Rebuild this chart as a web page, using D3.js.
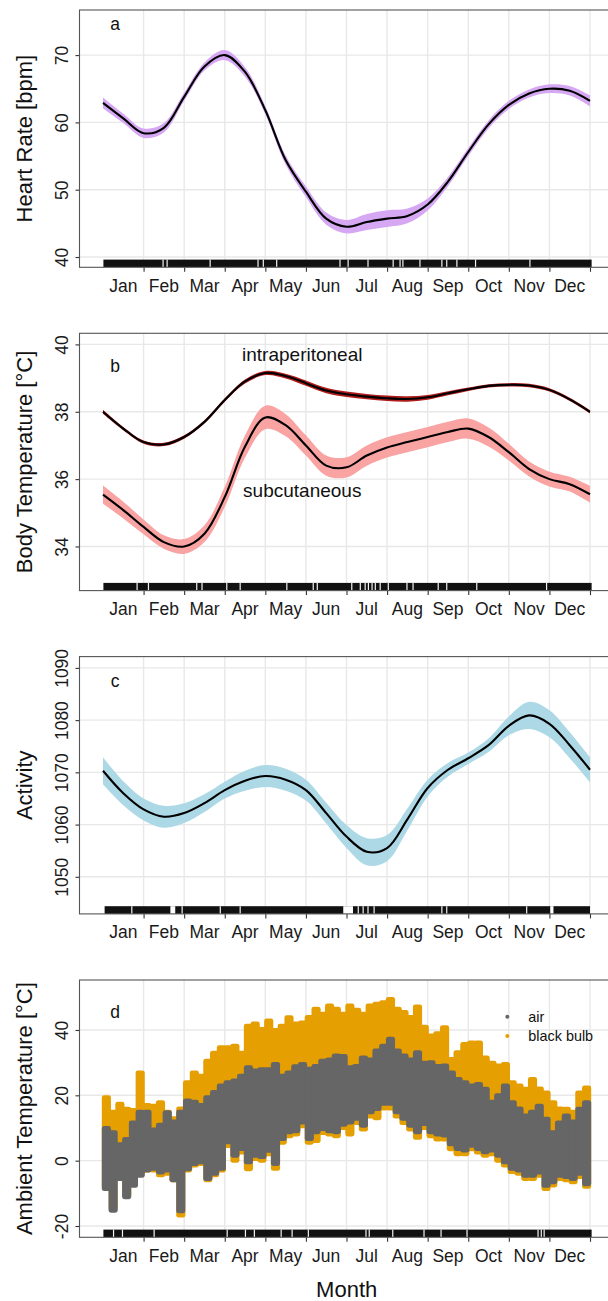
<!DOCTYPE html>
<html>
<head>
<meta charset="utf-8">
<script src="https://cdn.jsdelivr.net/npm/d3@7"></script>
<style>
  html, body { margin: 0; padding: 0; background: #fff; }
  svg { display: block; font-family: "Liberation Sans", Arial, Helvetica, sans-serif; }
</style>
</head>
<body>
<svg id="chart" width="608" height="1301"></svg>
<script>
// ---- month axis ----
var monthNames = ["Jan","Feb","Mar","Apr","May","Jun","Jul","Aug","Sep","Oct","Nov","Dec"];
var monthBreaks = [2,3,4,5,6,7,8,9,10,11,12,13];
var smoothMonths = [1,1.5,2,2.5,3,3.5,4,4.5,5,5.5,6,6.5,7,7.5,8,8.5,9,9.5,10,10.5,11,11.5,12,12.5,13];

// ---- a: heart rate (fit + half width of band) ----
var hrMean = [62.9,60.6,58.4,59.2,63.8,68.3,70.0,67.5,61.8,54.4,49.7,45.7,44.5,45.2,45.7,46.1,47.8,51.2,55.6,59.7,62.6,64.3,65.0,64.7,63.2];
var hrSE   = [0.8,0.7,0.7,0.7,0.6,0.6,0.75,0.7,0.6,0.7,0.8,0.9,1.0,1.2,1.25,1.1,0.9,0.7,0.6,0.6,0.6,0.6,0.65,0.7,0.8];
var hrTicks = [40,50,60,70];

// ---- b: body temperature ----
var ipMean = [38.0,37.5,37.1,37.03,37.25,37.7,38.35,38.9,39.15,39.06,38.85,38.63,38.52,38.45,38.4,38.38,38.43,38.55,38.67,38.77,38.8,38.78,38.65,38.37,38.0];
var ipSE   = [0.06,0.05,0.05,0.05,0.05,0.05,0.05,0.06,0.06,0.07,0.08,0.08,0.08,0.08,0.08,0.08,0.07,0.06,0.05,0.05,0.05,0.05,0.05,0.05,0.05];
var scMean = [35.54,35.08,34.58,34.13,34.0,34.38,35.47,36.97,37.83,37.6,37.0,36.4,36.35,36.7,36.94,37.1,37.25,37.4,37.5,37.25,36.8,36.3,36.0,35.85,35.55];
var scSE   = [0.27,0.25,0.22,0.2,0.22,0.25,0.3,0.33,0.35,0.33,0.3,0.3,0.3,0.3,0.3,0.3,0.3,0.3,0.3,0.28,0.25,0.22,0.22,0.22,0.25];
var btTicks = [34,36,38,40];

// ---- c: activity ----
var actMean = [1070.3,1066,1062.9,1061.5,1062.2,1064.1,1066.6,1068.4,1069.3,1068.6,1066.6,1062.2,1057.7,1054.8,1055.5,1061,1067,1070.5,1072.7,1075.2,1078.9,1080.9,1079.3,1075.2,1070.5];
var actSE   = [2.6,2.3,2.1,2.1,1.9,1.7,1.6,1.9,2.1,2.1,2.0,2.0,2.2,2.6,2.5,2.1,1.6,1.3,1.1,1.3,1.8,2.6,2.6,2.5,2.4];
var actTicks = [1050,1060,1070,1080,1090];

// ---- d: ambient temperature, ranges per ~5 day bin (6 per month) ----
var airLo = [
  -8.7,-15.3,-5.6,-11.2,-7.7,-4.6,   // Jan
  -3,-2.5,-3.6,-3,-6,-15.5,          // Feb
  -2.6,-1,-0.5,-5.6,-4,-2.5,         // Mar
  5.6,1.5,3.6,-0.5,1.5,1.1,          // Apr
  3,-1,6.6,8.7,9,11.7,               // May
  6.6,8.7,9.7,9,8.7,11,              // Jun
  11.7,12.8,10.7,14.8,15.8,17.4,     // Jul
  17.4,14.8,12.8,10.7,8.7,11.2,      // Aug
  8.7,8,7.7,5,3.6,3.1,               // Sep
  4.6,3.6,2.6,3.1,1.5,-0.5,          // Oct
  -2.5,-3,-4.6,-4.6,-3.6,-7.7,       // Nov
  -6.6,-4.6,-5,-5.6,-4,-7.2          // Dec
];
var airHi = [
  10,8.7,5,6.6,11.7,15,
  15,9.5,11,14.8,12,15,
  18.4,18,17,19.4,21,23,
  24,24.5,26,28.6,27.6,28,
  28,29.6,26,27,28.9,29.6,
  28.1,29,30.6,31,32.2,32,
  28.6,29,31.6,31,33.7,35.2,
  37.3,33.7,32.2,31,33.2,30,
  30.1,29,29.1,27,25,24,
  23,23.5,22,18,20,23,
  17.9,16,13.8,15,16.8,12.8,
  8.7,11.7,13.8,12,15.9,17.9
];
var bulbLo = [
  -8,-14.5,-5,-10.5,-7,-4,
  -3,-3,-4.5,-4,-6,-16.8,
  -3,-1.5,-1,-6,-4.5,-3,
  4.5,0,2.5,-2.6,0.5,0,
  2,-2.5,5.5,7.5,8,10.5,
  5.5,6,8.5,8,7.5,10,
  8,11.5,9.5,13.5,13,16,
  16,13.5,11.5,9.5,7,10,
  7.5,6.5,6.5,3.5,2,2,
  3.5,2.5,1.5,2,0,-1.5,
  -3.5,-4,-5.6,-5.6,-4.6,-8.7,
  -7.6,-5.6,-6,-6.6,-5,-8
];
var bulbHi = [
  19.4,15,17.4,15.9,15.5,27,
  17,16.8,17.9,15,13,16,
  24,27,26,30.6,33,34.7,
  34.7,35.2,33,41.3,42,40.3,
  42.9,40,41.3,43.9,42,42.3,
  44,46.5,45,47.5,46.5,45,
  47.5,46.2,45,47.5,48,48.5,
  49.5,46.5,45.5,44,47.2,41,
  38.3,39,40.8,31.1,33.2,35.7,
  36.2,36.2,31.6,30,29.1,29.6,
  24,23,22,25,22.1,20.9,
  17.9,16,15.9,15,20.9,22.4
];
var ambTicks = [-20,0,20,40];

// ---- rugs: covered span and gaps (months) ----
var rugSpanA = [1.01,13.04];
var rugGapsA = [2.48,2.58,3.64,4.82,4.95,5.28,6.84,7.04,7.53,8.15,8.32,8.39,8.81,9.35,9.47,9.72,10.18,11.52];
var rugSpanB = [1.01,13.04];
var rugGapsB = [1.84,2.12,3.31,3.44,4.05,4.38,5.53,6.18,6.28,7.13,7.34,7.46,7.54,7.63,7.71,7.83,8.03,8.49,8.64,9.26,9.47,10.21,11.93];
var rugSpanC = [1.04,13.0];
var rugGapsC = [1.71,[2.66,2.78],2.95,3.89,4.38,[6.92,7.16],7.29,7.41,7.53,7.68,9.35,9.47,11.44,[12.02,12.1]];
var rugSpanD = [1.01,13.04];
var rugGapsD = [1.26,1.48,2.26,4.06,4.51,4.73,5.39,5.66,6.06,7.48,7.56,8.14,8.91,9.33,9.97,11.72,11.8,11.87];

// ---- layout ----
var svg = d3.select("#chart");
var plotLeft = 79.5, plotRight = 615, panelH = 257.3;
var x = d3.scaleLinear().domain([1, 13]).range([103, 590]);

function drawPanel(id, top, yDomain, ticks, title) {
    var bottom = top + panelH;
    var y = d3.scaleLinear().domain(yDomain).range([bottom, top]);
    var g = svg.append("g");

    g.append("defs").append("clipPath").attr("id", "clip-" + id)
        .append("rect").attr("x", plotLeft).attr("y", top)
        .attr("width", plotRight - plotLeft).attr("height", panelH);

    // grid
    var grid = g.append("g").attr("stroke", "#e8e8e8").attr("stroke-width", 1.4);
    grid.selectAll(".h").data(ticks).enter().append("line")
        .attr("x1", plotLeft).attr("x2", plotRight)
        .attr("y1", d => y(d)).attr("y2", d => y(d));
    grid.selectAll(".v").data(monthBreaks).enter().append("line")
        .attr("x1", d => x(d)).attr("x2", d => x(d))
        .attr("y1", top).attr("y2", bottom);

    var data = g.append("g").attr("clip-path", "url(#clip-" + id + ")");

    // axes
    var xAxis = d3.axisBottom(x).tickValues(monthBreaks).tickFormat("").tickSizeInner(4.5).tickSizeOuter(0);
    var gx = g.append("g").attr("transform", "translate(0," + bottom + ")").call(xAxis);
    gx.select(".domain").remove();
    gx.selectAll("line").attr("stroke", "#333").attr("stroke-width", 1.1);

    g.selectAll(".mlab").data(monthNames).enter().append("text")
        .attr("x", (d, i) => x(i + 1.5))
        .attr("y", bottom + 24.4)
        .attr("text-anchor", "middle")
        .attr("font-size", 17.5)
        .attr("fill", "#1a1a1a")
        .text(d => d);

    var yAxis = d3.axisLeft(y).tickValues(ticks).tickFormat(d => String(d))
        .tickSizeInner(4).tickSizeOuter(0);
    var gy = g.append("g").attr("transform", "translate(" + plotLeft + ",0)").call(yAxis);
    gy.attr("font-family", null).attr("font-size", null);
    gy.select(".domain").remove();
    gy.selectAll("line").attr("stroke", "#333").attr("stroke-width", 1.1);
    gy.selectAll("text")
        .attr("x", null).attr("dy", null)
        .attr("transform", "translate(-11.2,0) rotate(-90)")
        .attr("text-anchor", "middle")
        .attr("font-size", 17.5)
        .attr("fill", "#1a1a1a");

    g.append("text")
        .attr("transform", "translate(32.4," + (top + panelH / 2) + ") rotate(-90)")
        .attr("text-anchor", "middle")
        .attr("font-size", 22)
        .attr("fill", "#111")
        .text(title);

    return {g: g, data: data, y: y, top: top, bottom: bottom};
}

function drawRug(p, span, gaps) {
    var r = p.data.append("g");
    r.append("rect")
        .attr("x", x(span[0])).attr("width", x(span[1]) - x(span[0]))
        .attr("y", p.bottom - 7.7).attr("height", 7.7)
        .attr("fill", "#111");
    gaps.forEach(function (gp) {
        if (Array.isArray(gp)) {
            r.append("rect").attr("x", x(gp[0])).attr("width", x(gp[1]) - x(gp[0]))
                .attr("y", p.bottom - 7.7).attr("height", 7.7).attr("fill", "#fff");
        } else {
            r.append("line").attr("x1", x(gp)).attr("x2", x(gp))
                .attr("y1", p.bottom - 7.7).attr("y2", p.bottom)
                .attr("stroke", "#f4f4f4").attr("stroke-width", 1.2);
        }
    });
}

function drawFit(p, mean, se, fill) {
    var pts = smoothMonths.map((m, i) => ({m: m, v: mean[i], s: se[i]}));
    var curve = d3.curveCatmullRom.alpha(0.5);
    var area = d3.area().x(d => x(d.m)).y0(d => p.y(d.v - d.s)).y1(d => p.y(d.v + d.s)).curve(curve);
    var line = d3.line().x(d => x(d.m)).y(d => p.y(d.v)).curve(curve);
    p.data.append("path").attr("d", area(pts)).attr("fill", fill);
    p.data.append("path").attr("d", line(pts)).attr("fill", "none")
        .attr("stroke", "#000").attr("stroke-width", 2.1);
}

function drawBorder(p) {
    p.g.append("rect").attr("x", plotLeft).attr("y", p.top)
        .attr("width", plotRight - plotLeft).attr("height", panelH)
        .attr("fill", "none").attr("stroke", "#555").attr("stroke-width", 1.1);
}

function panelLetter(p, txt, m, v) {
    p.g.append("text").attr("x", x(m)).attr("y", p.y(v)).attr("dy", "0.35em")
        .attr("text-anchor", "middle").attr("font-size", 17.5).attr("fill", "#111").text(txt);
}

// ---- panel a ----
var pa = drawPanel("a", 10, [38.47, 76.7], hrTicks, "Heart Rate [bpm]");
drawFit(pa, hrMean, hrSE, "#d6a8f4");
drawRug(pa, rugSpanA, rugGapsA);
drawBorder(pa);
panelLetter(pa, "a", 1.3, 74.6);

// ---- panel b ----
var pb = drawPanel("b", 333.3, [32.69, 40.33], btTicks, "Body Temperature [°C]");
drawFit(pb, scMean, scSE, "#f9a3a3");
drawFit(pb, ipMean, ipSE, "#b01c1c");
drawRug(pb, rugSpanB, rugGapsB);
drawBorder(pb);
panelLetter(pb, "b", 1.3, 39.35);
pb.g.append("text").attr("x", x(5.91)).attr("y", pb.y(39.51))
    .attr("text-anchor", "middle").attr("font-size", 19).attr("fill", "#111").text("intraperitoneal");
pb.g.append("text").attr("x", x(5.91)).attr("y", pb.y(35.46))
    .attr("text-anchor", "middle").attr("font-size", 19).attr("fill", "#111").text("subcutaneous");

// ---- panel c ----
var pc = drawPanel("c", 656.6, [1042.9, 1092.16], actTicks, "Activity");
drawFit(pc, actMean, actSE, "#add8e6");
drawRug(pc, rugSpanC, rugGapsC);
drawBorder(pc);
panelLetter(pc, "c", 1.3, 1087.6);

// ---- panel d ----
var pd = drawPanel("d", 980, [-23.46, 55.3], ambTicks, "Ambient Temperature [°C]");
var binStart = i => 1 + i / 6;
function drawRanges(lo, hi, color) {
    pd.data.append("g").selectAll("rect").data(lo).enter().append("rect")
        .attr("x", (d, i) => x(binStart(i)) - 1.2)
        .attr("width", (d, i) => x(binStart(i + 1)) - x(binStart(i)) + 2.4)
        .attr("y", (d, i) => pd.y(hi[i]) - 2)
        .attr("height", (d, i) => pd.y(d) - pd.y(hi[i]) + 4)
        .attr("rx", 2.4)
        .attr("fill", color);
}
drawRanges(bulbLo, bulbHi, "#E69F00");
drawRanges(airLo, airHi, "#666666");
drawRug(pd, rugSpanD, rugGapsD);
drawBorder(pd);
panelLetter(pd, "d", 1.3, 45.5);

// legend
var legendItems = [["air", "#666666"], ["black bulb", "#E69F00"]];
var lg = svg.append("g").attr("transform", "translate(507.3,1016.7)");
legendItems.forEach(function (it, i) {
    lg.append("circle").attr("cx", 0).attr("cy", i * 19.3).attr("r", 2).attr("fill", it[1]);
    lg.append("text").attr("x", 21).attr("y", i * 19.3).attr("dy", "0.35em")
        .attr("font-size", 14.4).attr("fill", "#111").text(it[0]);
});

// x title
svg.append("text").attr("x", 346.7).attr("y", 1296.7).attr("text-anchor", "middle")
    .attr("font-size", 22).attr("fill", "#111").text("Month");
</script>
</body>
</html>
